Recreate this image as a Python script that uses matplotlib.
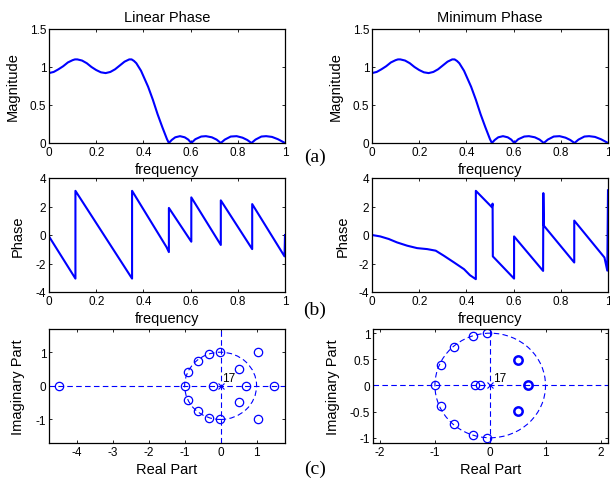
"""Linear-phase vs minimum-phase FIR filter: magnitude, phase and pole-zero plots."""
import matplotlib
matplotlib.use("Agg")
import matplotlib.pyplot as plt
from matplotlib.patches import Circle

plt.rcParams["font.family"] = ["Liberation Sans", "DejaVu Sans"]
plt.rcParams["axes.unicode_minus"] = False

BLUE = "#0000ff"

# magnitude response (same for both filters)
freq_mag = [0.00, 0.02, 0.04, 0.06, 0.08, 0.10, 0.11, 0.12, 0.14, 0.16, 0.18,
            0.20, 0.22, 0.24, 0.26, 0.28, 0.30, 0.32, 0.34, 0.35, 0.36, 0.37,
            0.38, 0.39, 0.40, 0.42, 0.44, 0.46, 0.48, 0.50, 0.508, 0.52,
            0.535, 0.555, 0.575, 0.59, 0.603, 0.62, 0.645, 0.665, 0.69, 0.71,
            0.728, 0.745, 0.77, 0.795, 0.82, 0.84, 0.858, 0.875, 0.90, 0.92,
            0.945, 0.97, 1.00]
mag = [0.92, 0.935, 0.97, 1.01, 1.06, 1.09, 1.10, 1.10, 1.085, 1.05, 1.00,
       0.96, 0.93, 0.92, 0.935, 0.97, 1.02, 1.07, 1.10, 1.10, 1.08, 1.05,
       1.00, 0.95, 0.88, 0.74, 0.57, 0.38, 0.21, 0.05, 0.0, 0.04,
       0.075, 0.09, 0.075, 0.045, 0.0, 0.05, 0.085, 0.09, 0.075, 0.045,
       0.0, 0.045, 0.085, 0.09, 0.07, 0.04, 0.0, 0.045, 0.085, 0.09,
       0.08, 0.05, 0.0]

# phase, linear-phase filter
lin_f = [0.0, 0.112, 0.112, 0.352, 0.352, 0.498, 0.508, 0.508, 0.603, 0.603,
         0.728, 0.728, 0.861, 0.861, 0.998, 1.0]
lin_phase = [-0.1, -3.06, 3.1, -3.06, 3.1, -0.85, -1.2, 1.9, -0.47, 2.64,
             -0.7, 2.43, -0.99, 2.17, -1.5, 0.0]

# phase, minimum-phase filter
min_f = [0.0, 0.035, 0.071, 0.106, 0.149, 0.191, 0.234, 0.27, 0.305, 0.348,
         0.39, 0.415, 0.44, 0.44, 0.508, 0.511, 0.512, 0.602, 0.602, 0.725,
         0.726, 0.728, 0.857, 0.857, 0.985, 0.997, 1.0]
min_phase = [0.0, -0.1, -0.28, -0.52, -0.75, -0.92, -0.99, -1.1, -1.46, -1.93,
             -2.4, -2.82, -3.1, 3.1, 1.95, 2.2, -1.5, -3.06, -0.1, -2.52,
             2.94, 0.66, -1.93, 1.01, -1.58, -2.5, 3.14]

# zeros of the linear-phase filter
lin_zero_re = [-4.49, -1.0, -0.20, 0.70, 1.48, -0.03, -0.03, -0.32, -0.32,
               -0.62, -0.62, -0.90, -0.90, 0.51, 0.51, 1.05, 1.05]
lin_zero_im = [0.0, 0.0, 0.0, 0.0, 0.0, 1.0, -1.0, 0.95, -0.95,
               0.75, -0.75, 0.42, -0.42, 0.49, -0.49, 1.0, -1.0]

# zeros of the minimum-phase filter (single, then double zeros)
min_zero_re = [-1.0, -0.27, -0.19, -0.05, -0.05, -0.32, -0.32, -0.66, -0.66,
               -0.89, -0.89]
min_zero_im = [0.0, 0.0, 0.0, 1.0, -1.0, 0.94, -0.94, 0.74, -0.74,
               0.40, -0.40]
min_dbl_re = [0.50, 0.50, 0.69]
min_dbl_im = [0.48, -0.48, 0.0]
n_poles = 17


def style(ax):
    ax.tick_params(direction="in", length=2.5, width=0.6, top=True, right=True,
                   labelsize=8.5, pad=2)
    for s in ax.spines.values():
        s.set_linewidth(0.9)


fig = plt.figure(figsize=(6.1, 4.81), dpi=100)
W = 236 / 610
H = 114 / 481
ax_ml = fig.add_axes([49 / 610, 337 / 481, W, H])
ax_mr = fig.add_axes([372 / 610, 337 / 481, W, H])
ax_pl = fig.add_axes([49 / 610, 188 / 481, W, H])
ax_pr = fig.add_axes([372 / 610, 188 / 481, W, H])
ax_zl = fig.add_axes([49 / 610, 37 / 481, W, H])
ax_zr = fig.add_axes([373 / 610, 37 / 481, 235 / 610, H])

for ax, title in [(ax_ml, "Linear Phase"), (ax_mr, "Minimum Phase")]:
    ax.plot(freq_mag, mag, color=BLUE, lw=1.5)
    ax.set_xlim(0, 1)
    ax.set_ylim(0, 1.5)
    ax.set_xticks([0, 0.2, 0.4, 0.6, 0.8, 1])
    ax.set_xticklabels(["0", "0.2", "0.4", "0.6", "0.8", "1"])
    ax.set_yticks([0, 0.5, 1, 1.5])
    ax.set_yticklabels(["0", "0.5", "1", "1.5"])
    ax.set_title(title, fontsize=10.5, pad=6)
    ax.set_ylabel("Magnitude", fontsize=10.5)
    ax.yaxis.set_label_coords(-0.123, 0.5)
    ax.set_xlabel("frequency", fontsize=10.5, labelpad=3)
    style(ax)

for ax, f, p, ylx in [(ax_pl, lin_f, lin_phase, -0.102), (ax_pr, min_f, min_phase, -0.095)]:
    ax.plot(f, p, color=BLUE, lw=1.5)
    ax.set_xlim(0, 1)
    ax.set_ylim(-4, 4)
    ax.set_xticks([0, 0.2, 0.4, 0.6, 0.8, 1])
    ax.set_xticklabels(["0", "0.2", "0.4", "0.6", "0.8", "1"])
    ax.set_yticks([-4, -2, 0, 2, 4])
    ax.set_ylabel("Phase", fontsize=10.5)
    ax.yaxis.set_label_coords(ylx, 0.5)
    ax.set_xlabel("frequency", fontsize=10.5, labelpad=3)
    style(ax)

dash = (0, (5, 3))
for ax in (ax_zl, ax_zr):
    ax.axhline(0, color=BLUE, lw=0.8, ls=dash)
    ax.axvline(0, color=BLUE, lw=0.8, ls=dash)
    ax.add_patch(Circle((0, 0), 1, fill=False, ec=BLUE, lw=0.8, ls=dash))
    ax.plot([0], [0], "x", color=BLUE, ms=5, mew=0.8)
    ax.set_xlabel("Real Part", fontsize=10.5, labelpad=3)
    ax.set_ylabel("Imaginary Part", fontsize=10.5)
    style(ax)

ax_zl.plot(lin_zero_re, lin_zero_im, "o", mfc="none", mec=BLUE, ms=6, mew=0.9)
ax_zl.set_xlim(-4.77, 1.79)
ax_zl.set_ylim(-1.7, 1.69)
ax_zl.set_xticks([-4, -3, -2, -1, 0, 1])
ax_zl.set_yticks([-1, 0, 1])
ax_zl.text(0.05, 0.22, str(n_poles), fontsize=8.5, va="center")
ax_zl.yaxis.set_label_coords(-0.102, 0.5)

ax_zr.plot(min_zero_re, min_zero_im, "o", mfc="none", mec=BLUE, ms=6, mew=0.9)
ax_zr.plot(min_dbl_re, min_dbl_im, "o", mfc="none", mec=BLUE, ms=6, mew=1.8)
ax_zr.set_xlim(-2.12, 2.13)
ax_zr.set_ylim(-1.1, 1.08)
ax_zr.set_xticks([-2, -1, 0, 1, 2])
ax_zr.set_yticks([-1, -0.5, 0, 0.5, 1])
ax_zr.set_yticklabels(["-1", "-0.5", "0", "0.5", "1"])
ax_zr.text(0.05, 0.15, str(n_poles), fontsize=8.5, va="center")
ax_zr.yaxis.set_label_coords(-0.14, 0.5)

for lbl, y in [("(a)", 157), ("(b)", 310), ("(c)", 469)]:
    fig.text(315 / 610, 1 - y / 481, lbl, ha="center", va="center",
             fontsize=14, family=["Liberation Serif", "DejaVu Serif"])

fig.savefig("out.png", dpi=100)
